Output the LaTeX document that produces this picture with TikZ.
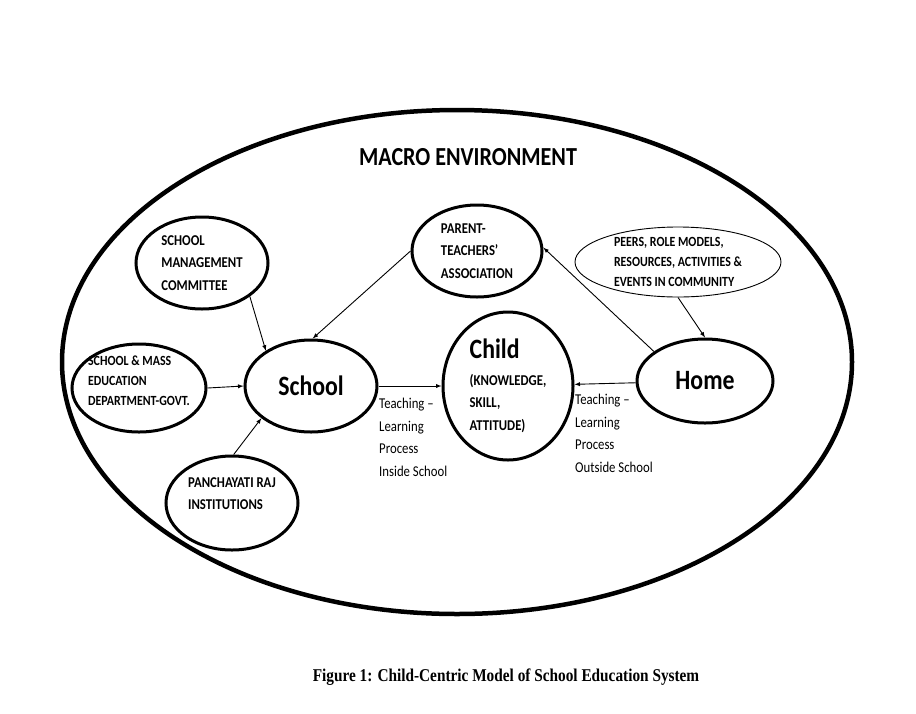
\documentclass[tikz,border=0pt]{standalone}
\usepackage{fontspec}
\setmainfont[FakeStretch=0.85]{Carlito}
\newfontfamily\capfont[FakeStretch=0.85]{Liberation Serif}
\usetikzlibrary{shapes.geometric}

\begin{document}
\begin{tikzpicture}[
    x=1pt, y=-1pt,
    every node/.style={
        align=left,
        inner sep=0pt
    },
    oval/.style={draw, ellipse, line width=3pt, inner sep=-15pt, font=\fontsize{15}{22.5}\selectfont\bfseries},
    smalloval/.style={oval, font=\fontsize{14}{20}\selectfont\bfseries},
    thinoval/.style={smalloval, line width=0.9pt},
    bigoval/.style={oval, font=\fontsize{28}{30}\selectfont\bfseries},
    processtext/.style={anchor=north west, font=\fontsize{15}{22.5}\selectfont},
    arrow/.style={-latex, line width=0.9pt}
]
\useasboundingbox (0,0) rectangle (916,713);
\node[draw, ellipse, line width=4.5pt, minimum width=790pt, minimum height=504pt] (macro) at (457,362) {};
\node[font=\fontsize{26}{28}\selectfont\bfseries] (title) at (468,157) {MACRO ENVIRONMENT};
\node[oval, minimum width=132pt, minimum height=92pt] (smc) at (202,263) {SCHOOL\\MANAGEMENT\\COMMITTEE};
\node[smalloval, minimum width=134pt, minimum height=88pt, text depth=14pt] (smed) at (139,388) {SCHOOL \& MASS\\EDUCATION\\DEPARTMENT-GOVT.};
\node[bigoval, minimum width=132pt, minimum height=92pt] (school) at (311,386) {School};
\node[oval, minimum width=132pt, minimum height=94pt, text depth=19pt] (pri) at (232,503) {PANCHAYATI RAJ\\INSTITUTIONS};
\node[oval, minimum width=130pt, minimum height=92pt] (pta) at (477,251) {PARENT-\\TEACHERS'\\ASSOCIATION};
\node[thinoval, minimum width=206pt, minimum height=70pt] (peers) at (678,262) {PEERS, ROLE MODELS,\\RESOURCES, ACTIVITIES \&\\EVENTS IN COMMUNITY};
\node[oval, minimum width=130pt, minimum height=148pt] (child) at (508,386) {{\fontsize{28}{30}\selectfont Child}\\[4pt](KNOWLEDGE,\\SKILL,\\ATTITUDE)};
\node[bigoval, minimum width=136pt, minimum height=84pt] (home) at (705,381) {Home};
\node[processtext] (inside) at (379,398) {Teaching --\\Learning\\Process\\Inside School};
\node[processtext] (outside) at (575,394) {Teaching --\\Learning\\Process\\Outside School};
\node[font=\capfont\bfseries\fontsize{18}{20}\selectfont] (caption) at (506,677) {Figure 1: Child-Centric Model of School Education System};
\draw[arrow] (smc.-35) -- (school.142);
\draw[arrow] (smed.0) -- (school.180);
\draw[arrow] (pri.88) -- (school.-147);
\draw[arrow] (pta.180) -- (school.88);
\draw[arrow] (school) -- (child);
\draw[arrow] (home.150) -- (pta.3);
\draw[arrow] (peers.-90) -- (home.90);
\draw[arrow] (home) -- (child);
\end{tikzpicture}
\end{document}
